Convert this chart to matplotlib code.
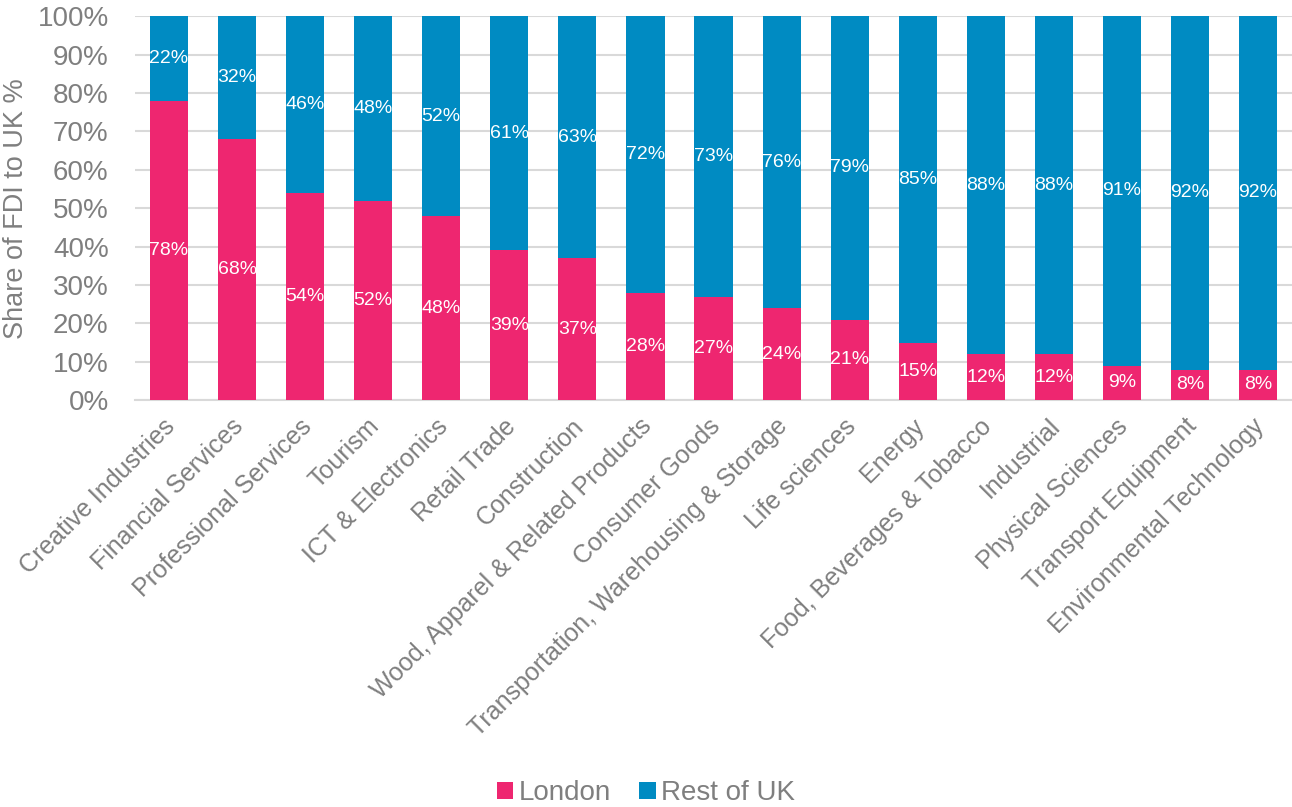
import matplotlib.pyplot as plt
import matplotlib.transforms as mtransforms
import numpy as np

plt.rcParams['font.family'] = ['Liberation Sans', 'DejaVu Sans']

# Sector shares of FDI projects, London vs rest of the UK (%)
sectors = [
    "Creative Industries", "Financial Services", "Professional Services",
    "Tourism", "ICT & Electronics", "Retail Trade", "Construction",
    "Wood, Apparel & Related Products", "Consumer Goods",
    "Transportation, Warehousing & Storage", "Life sciences", "Energy",
    "Food, Beverages & Tobacco", "Industrial", "Physical Sciences",
    "Transport Equipment", "Environmental Technology",
]
london = [78, 68, 54, 52, 48, 39, 37, 28, 27, 24, 21, 15, 12, 12, 9, 8, 8]
rest_of_uk = [22, 32, 46, 48, 52, 61, 63, 72, 73, 76, 79, 85, 88, 88, 91, 92, 92]

pink = '#EE2670'
blue = '#008BC2'
grey = '#7F7F7F'

fig = plt.figure(figsize=(12.92, 8.07), dpi=100)
ax = fig.add_axes([0.1045, 0.504, 0.8955, 0.476])

x = np.arange(len(sectors))
width = 0.56
b1 = ax.bar(x, london, width, color=pink, label='London', zorder=3)
b2 = ax.bar(x, rest_of_uk, width, bottom=london, color=blue, label='Rest of UK', zorder=3)

# value labels in the middle of each segment
for i in range(len(sectors)):
    ax.text(x[i], london[i] / 2, f"{london[i]}%", ha='center', va='center',
            color='white', fontsize=14, zorder=4)
    ax.text(x[i], london[i] + rest_of_uk[i] / 2, f"{rest_of_uk[i]}%", ha='center',
            va='center', color='white', fontsize=14, zorder=4)

ax.set_xlim(-0.5, len(sectors) - 0.5)
ax.set_ylim(0, 100)
ax.set_yticks(np.arange(0, 101, 10))
ax.set_yticklabels([f"{v}%" for v in range(0, 101, 10)])
ax.yaxis.grid(True, color='#D9D9D9', linewidth=1.5, zorder=0)
ax.set_axisbelow(True)

for s in ['top', 'right', 'left']:
    ax.spines[s].set_visible(False)
ax.spines['bottom'].set_color('#D9D9D9')
ax.spines['bottom'].set_linewidth(1.5)

ax.tick_params(axis='both', length=0, colors=grey)
ax.tick_params(axis='y', pad=19, labelsize=20)
ax.tick_params(axis='x', pad=10, labelsize=18)
ax.set_xticks(x)
ax.set_xticklabels(sectors, rotation=45, ha='right', rotation_mode='anchor')

# nudge the rotated category labels a little to the left
shift = mtransforms.ScaledTranslation(-6 / 100, 0, fig.dpi_scale_trans)
for lbl in ax.get_xticklabels():
    lbl.set_transform(lbl.get_transform() + shift)

ax.set_ylabel("Share of FDI to UK %", color=grey, fontsize=19.5, labelpad=6)

fig.legend(handles=[b1, b2], loc='center', bbox_to_anchor=(0.5, 0.017), ncol=2,
           frameon=False, fontsize=20, labelcolor=grey, handlelength=0.6,
           handleheight=0.6, handletextpad=0.2, columnspacing=1.0)

fig.savefig('out.png', dpi=100)
